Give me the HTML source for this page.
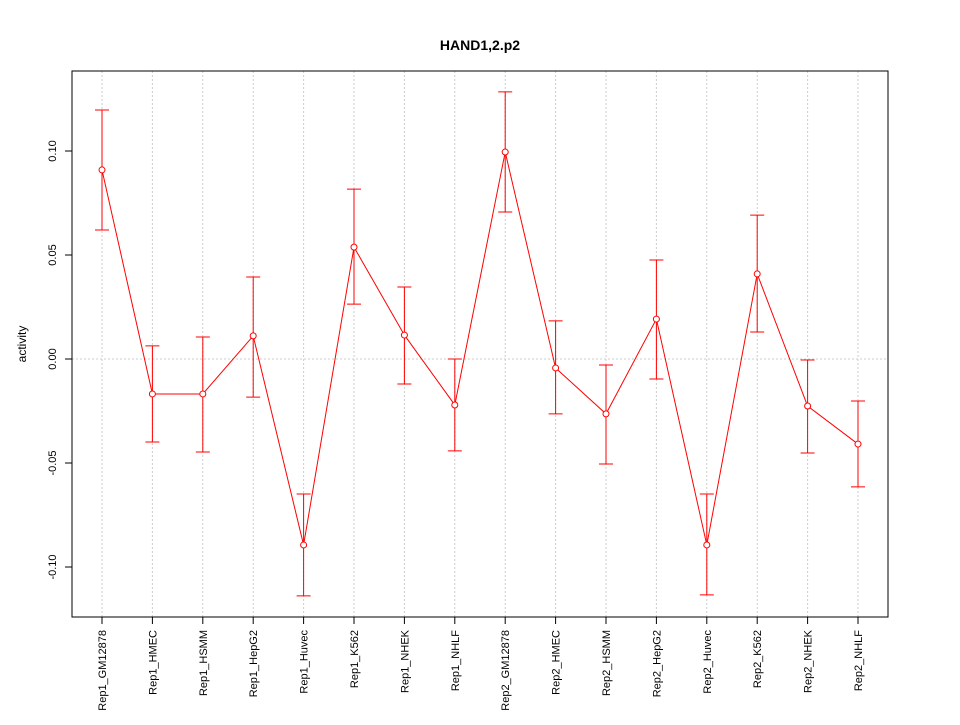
<!DOCTYPE html>
<html><head><meta charset="utf-8"><style>
body{margin:0;background:#fff}
text{font-family:"Liberation Sans",sans-serif;fill:#000}
</style></head><body>
<svg id="chart" width="960" height="720" xmlns="http://www.w3.org/2000/svg">
<rect width="960" height="720" fill="#fff"/>
<text x="480" y="50" text-anchor="middle" font-size="14" font-weight="bold">HAND1,2.p2</text>
<text x="26" y="344" text-anchor="middle" font-size="12" transform="rotate(-90 26 344)">activity</text>
<g id="grid"></g><g id="axes"></g><g id="series"></g>
<rect x="72" y="71" width="816" height="546" fill="none" stroke="#000"/>
</svg>
<script>
const categories=["Rep1_GM12878","Rep1_HMEC","Rep1_HSMM","Rep1_HepG2","Rep1_Huvec","Rep1_K562","Rep1_NHEK","Rep1_NHLF","Rep2_GM12878","Rep2_HMEC","Rep2_HSMM","Rep2_HepG2","Rep2_Huvec","Rep2_K562","Rep2_NHEK","Rep2_NHLF"];
const values=[0.0909,-0.0168,-0.0168,0.0111,-0.0894,0.0538,0.0115,-0.0221,0.0995,-0.0043,-0.0264,0.0192,-0.0894,0.0409,-0.0226,-0.0409];
const upper=[0.1197,0.0063,0.0106,0.0394,-0.0649,0.0817,0.0346,0.0000,0.1284,0.0183,-0.0029,0.0476,-0.0649,0.0692,-0.0005,-0.0202];
const lower=[0.0620,-0.0399,-0.0447,-0.0183,-0.1139,0.0264,-0.0120,-0.0442,0.0707,-0.0264,-0.0505,-0.0096,-0.1134,0.0130,-0.0452,-0.0615];
const yTicks=[-0.10,-0.05,0.00,0.05,0.10];
const yTickLabels=["-0.10","-0.05","0.00","0.05","0.10"];
const NS="http://www.w3.org/2000/svg";
const X=i=>102+i*50.4;
const Y=v=>359-v*2080;
function mk(parent,tag,attrs){const e=document.createElementNS(NS,tag);for(const k in attrs)e.setAttribute(k,attrs[k]);document.getElementById(parent).appendChild(e);return e;}
let e=mk("grid","line",{x1:72,x2:888,y1:Y(0),y2:Y(0),stroke:"#ccc","stroke-dasharray":"2,2"});


categories.forEach((c,i)=>{
 let g=mk("grid","line",{x1:X(i),x2:X(i),y1:71,y2:617,stroke:"#ccc","stroke-dasharray":"2,2"});
 
 
 let t=mk("axes","line",{x1:X(i),x2:X(i),y1:617,y2:624,stroke:"#000"});
 
 
 let l=mk("axes","text",{x:0,y:0,"font-size":11,"text-anchor":"end",transform:`translate(${X(i)+4},630) rotate(-90)`});
 l.textContent=c;
 
 
});
yTicks.forEach((v,i)=>{
 let t=mk("axes","line",{x1:65,x2:72,y1:Y(v),y2:Y(v),stroke:"#000"});
 
 
 let l=mk("axes","text",{x:0,y:0,"font-size":11,"text-anchor":"middle",transform:`translate(56,${Y(v)}) rotate(-90)`});
 l.textContent=yTickLabels[i];
 
 
});
let pl=mk("series","polyline",{points:values.map((v,i)=>X(i)+","+Y(v)).join(" "),fill:"none",stroke:"#f00"});


values.forEach((v,i)=>{
 let b=mk("series","path",{d:`M${X(i)},${Y(upper[i])}V${Y(lower[i])}M${X(i)-7},${Y(upper[i])}H${X(i)+7}M${X(i)-7},${Y(lower[i])}H${X(i)+7}`,stroke:"#f00",fill:"none"});
 
 
 let p=mk("series","circle",{cx:X(i),cy:Y(v),r:3,fill:"#fff",stroke:"#f00"});
 
 
});
</script>
</body></html>
